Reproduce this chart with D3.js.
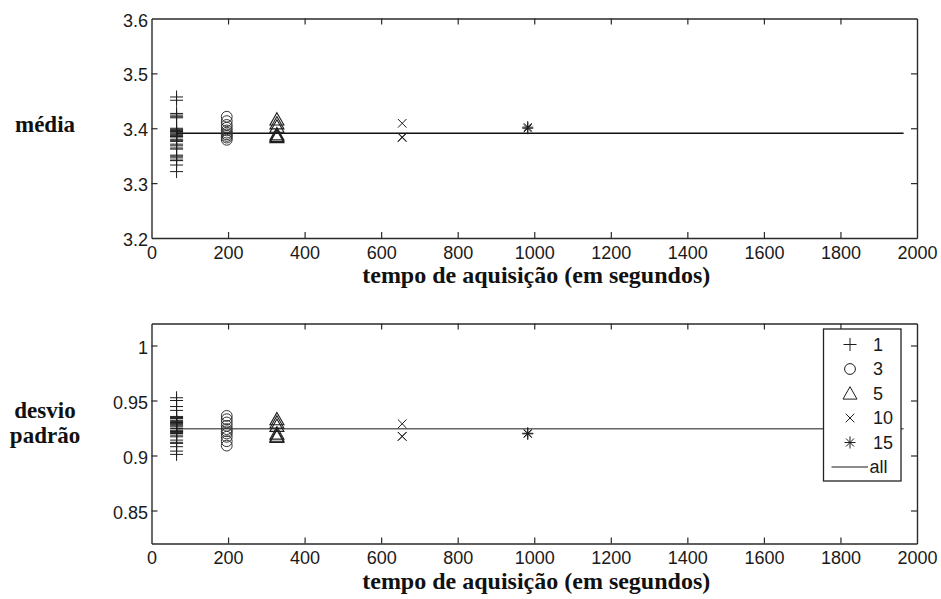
<!DOCTYPE html>
<html>
<head>
<meta charset="utf-8">
<script src="https://cdn.jsdelivr.net/npm/d3@7"></script>
<style>
  html, body { margin: 0; padding: 0; background: #fff; }
  svg { display: block; }
</style>
</head>
<body>
<svg id="chart" width="941" height="599"></svg>
<script>
// ---------------- DATA ----------------
const xTicks = [0, 200, 400, 600, 800, 1000, 1200, 1400, 1600, 1800, 2000];
const meanTicks = [3.2, 3.3, 3.4, 3.5, 3.6];
const meanTickLabels = ["3.2", "3.3", "3.4", "3.5", "3.6"];
const stdTicks = [0.85, 0.9, 0.95, 1];
const stdTickLabels = ["0.85", "0.9", "0.95", "1"];

const groups = ["1", "3", "5", "10", "15"];
const groupTime = [65.5, 196.6, 327.7, 655, 983];   // acquisition time (s)
const lineRange = [65.5, 1965];                       // "all" line extent

const mean1  = [3.457, 3.451, 3.427, 3.424, 3.421, 3.419, 3.400, 3.398, 3.396, 3.394,
                3.393, 3.391, 3.389, 3.387, 3.385, 3.384, 3.380, 3.378, 3.376, 3.371,
                3.368, 3.364, 3.362, 3.351, 3.349, 3.346, 3.342, 3.341, 3.333, 3.321];
const mean3  = [3.421, 3.413, 3.406, 3.401, 3.396, 3.392, 3.389, 3.386, 3.383, 3.379];
const mean5  = [3.416, 3.409, 3.403, 3.389, 3.386, 3.384];
const mean10 = [3.409, 3.384, 3.383];
const mean15 = [3.400, 3.402];
const meanAll = 3.391;

const std1  = [0.9525, 0.950, 0.9445, 0.941, 0.9355, 0.934, 0.932, 0.928, 0.926, 0.923,
               0.922, 0.920, 0.917, 0.914, 0.911, 0.908, 0.904, 0.901, 0.9345, 0.9335,
               0.931, 0.930, 0.929, 0.927, 0.9245, 0.922, 0.921, 0.9215, 0.9185, 0.912];
const std3  = [0.936, 0.933, 0.930, 0.927, 0.924, 0.922, 0.920, 0.917, 0.913, 0.909];
const std5  = [0.933, 0.930, 0.927, 0.920, 0.918, 0.917];
const std10 = [0.9288, 0.9173, 0.9175];
const std15 = [0.9197, 0.9202];
const stdAll = 0.9243;

const meanLabel = ["média"];
const stdLabel = ["desvio", "padrão"];
const xLabel = "tempo de aquisição (em segundos)";
const legendLabels = ["1", "3", "5", "10", "15", "all"];

// ---------------- STYLE / LAYOUT ----------------
const svg = d3.select("#chart");
const L = 151.5, R = 917;
const panels = [
  { top: 18.5, bottom: 238, domain: [3.2, 3.6], ticks: meanTicks, labels: meanTickLabels,
    series: [mean1, mean3, mean5, mean10, mean15], all: meanAll, lineColor: "#111",
    side: meanLabel, sideY: [131.5] },
  { top: 323.5, bottom: 543.5, domain: [0.82, 1.02], ticks: stdTicks, labels: stdTickLabels,
    series: [std1, std3, std5, std10, std15], all: stdAll, lineColor: "#666",
    side: stdLabel, sideY: [418, 443] }
];
const markerColor = "#1e1e1e";
const axisColor = "#2a2a2a";
const tickFont = "'Liberation Sans', Arial, sans-serif";
const labelFont = "'Liberation Serif', 'Times New Roman', serif";

const x = d3.scaleLinear().domain([0, 2000]).range([L, R]);

function markerPath(kind) {
  switch (kind) {
    case 0: return "M-6.5,0H6.5M0,-6.5V6.5";                       // plus
    case 2: return "M0,-6.8L7,5.6L-7,5.6Z";                         // triangle
    case 3: return "M-4.3,-4.3L4.3,4.3M-4.3,4.3L4.3,-4.3";          // x
    case 4: return "M-5.5,0H5.5M0,-6V6M-4,-4L4,4M-4,4L4,-4";        // star
  }
}
function circlePath(r) {
  return `M${r},0A${r},${r} 0 1,1 ${-r},0A${r},${r} 0 1,1 ${r},0Z`;
}

panels.forEach((p) => {
  const y = d3.scaleLinear().domain(p.domain).range([p.bottom, p.top]);
  const g = svg.append("g");

  // "all" line
  g.append("line")
    .attr("x1", x(lineRange[0])).attr("x2", x(lineRange[1]))
    .attr("y1", y(p.all)).attr("y2", y(p.all))
    .attr("stroke", p.lineColor).attr("stroke-width", 1.4);

  // markers
  p.series.forEach((vals, k) => {
    g.append("g").selectAll("path").data(vals).join("path")
      .attr("transform", d => `translate(${x(groupTime[k])},${y(d)})`)
      .attr("d", k === 1 ? circlePath(5.4) : markerPath(k))
      .attr("fill", "none")
      .attr("stroke", k === 1 ? "#333" : markerColor)
      .attr("stroke-width", k === 2 ? 1.1 : 1.0);
  });

  // axes: bottom, left, top, right (inward ticks)
  const tickLen = -6;
  const axB = g.append("g").attr("transform", `translate(0,${p.bottom})`)
    .call(d3.axisBottom(x).tickValues(xTicks).tickSizeInner(tickLen).tickSizeOuter(0).tickPadding(14).tickFormat(d3.format("d")));
  const axT = g.append("g").attr("transform", `translate(0,${p.top})`)
    .call(d3.axisTop(x).tickValues(xTicks).tickSizeInner(tickLen).tickSizeOuter(0).tickFormat(""));
  const axL = g.append("g").attr("transform", `translate(${L},0)`)
    .call(d3.axisLeft(y).tickValues(p.ticks).tickSizeInner(tickLen).tickSizeOuter(0).tickPadding(3.5)
      .tickFormat((d, i) => p.labels[i]));
  const axR = g.append("g").attr("transform", `translate(${R},0)`)
    .call(d3.axisRight(y).tickValues(p.ticks).tickSizeInner(tickLen).tickSizeOuter(0).tickFormat(""));

  [axB, axT, axL, axR].forEach(a => {
    a.select(".domain").attr("stroke", axisColor).attr("stroke-width", 1.4);
    a.selectAll(".tick line").attr("stroke", axisColor).attr("stroke-width", 1.2);
    a.selectAll("text").attr("fill", "#1a1a1a").attr("font-family", tickFont).attr("font-size", 18);
  });
  axB.selectAll(".tick line").filter(d => d === 0 || d === 2000).remove();
  axT.selectAll(".tick line").filter(d => d === 0 || d === 2000).remove();
  axL.selectAll(".tick line").filter(d => d === p.domain[0] || d === p.domain[1]).remove();
  axR.selectAll(".tick line").filter(d => d === p.domain[0] || d === p.domain[1]).remove();
  axB.selectAll("text").attr("dy", "0.71em").attr("y", 8);
  axL.selectAll("text").attr("dy", "0.42em");

  // side labels
  p.side.forEach((t, i) => {
    svg.append("text").attr("x", 45).attr("y", p.sideY[i])
      .attr("text-anchor", "middle")
      .attr("font-family", labelFont).attr("font-weight", "bold").attr("font-size", 23)
      .attr("fill", "#111").text(t);
  });

  // x axis label
  svg.append("text").attr("x", (L + R) / 2 + 2).attr("y", p.bottom + 45)
    .attr("text-anchor", "middle")
    .attr("font-family", labelFont).attr("font-weight", "bold").attr("font-size", 24)
    .attr("fill", "#111").text(xLabel);
});

// ---------------- LEGEND (bottom panel) ----------------
const leg = svg.append("g");
const lgX0 = 823.5, lgX1 = 901, lgY0 = 329, lgY1 = 481;
leg.append("rect").attr("x", lgX0).attr("y", lgY0).attr("width", lgX1 - lgX0).attr("height", lgY1 - lgY0)
  .attr("fill", "#fff").attr("stroke", "#222").attr("stroke-width", 1.3);
const ly = d3.scalePoint().domain(legendLabels).range([344.5, 467]);
legendLabels.forEach((lab, i) => {
  const cy = ly(lab);
  if (i < 5) {
    leg.append("path")
      .attr("transform", `translate(850,${cy})`)
      .attr("d", i === 1 ? circlePath(5.4) : markerPath(i))
      .attr("fill", "none").attr("stroke", markerColor).attr("stroke-width", 1);
  } else {
    leg.append("line").attr("x1", 831.5).attr("x2", 868).attr("y1", cy).attr("y2", cy)
      .attr("stroke", "#666").attr("stroke-width", 1.4);
  }
  leg.append("text").attr("x", i < 5 ? 873 : 869.5).attr("y", cy).attr("dy", "0.36em")
    .attr("font-family", tickFont).attr("font-size", 18).attr("fill", "#1a1a1a").text(lab);
});
</script>
</body>
</html>
